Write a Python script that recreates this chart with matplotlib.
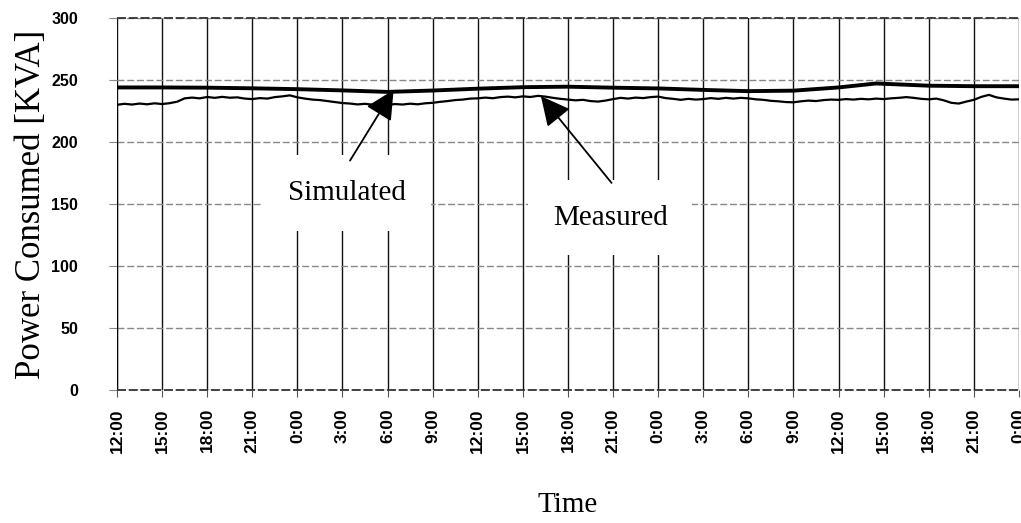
import numpy as np
import matplotlib
matplotlib.use("Agg")
import matplotlib.pyplot as plt

# --- data ---
tick_hours = list(range(0, 61, 3))
tick_labels = ["12:00", "15:00", "18:00", "21:00", "0:00", "3:00", "6:00", "9:00",
               "12:00", "15:00", "18:00", "21:00", "0:00", "3:00", "6:00", "9:00",
               "12:00", "15:00", "18:00", "21:00", "0:00"]

sim_hours = [0, 3, 6, 9, 12, 15, 18, 21, 24, 27, 30, 33, 36, 39, 42, 45, 48, 50.5, 54, 57, 60]
sim_kva = [244.0, 244.0, 243.8, 243.3, 242.6, 241.6, 240.4, 241.5, 243.0, 244.2, 244.6,
           243.8, 243.2, 242.0, 241.0, 241.4, 244.0, 247.2, 245.4, 245.0, 245.0]

meas_hours = [0.0] + [h * 0.5 for h in range(121)]
meas_kva = [0.0,
            230.0, 230.8, 230.2, 231.0, 230.4, 231.2, 230.6, 231.3, 232.5, 235.2,
            235.8, 235.2, 236.3, 235.6, 236.4, 235.7, 236.0, 235.0, 234.6, 235.4,
            235.0, 236.2, 236.8, 237.6, 236.0, 235.0, 234.2, 233.8, 233.0, 232.2,
            231.4, 231.0, 230.3, 230.8, 230.1, 230.7, 230.0, 230.6, 230.2, 230.9,
            230.4, 231.2, 231.6, 232.4, 233.0, 233.8, 234.2, 235.0, 235.2, 235.8,
            235.3, 236.2, 236.6, 236.0, 236.8, 236.3, 237.2, 236.6, 235.6, 234.8,
            234.2, 233.6, 234.0, 233.0, 232.6, 233.4, 234.6, 235.6, 235.0, 235.8,
            235.4, 236.2, 236.6, 235.4, 234.8, 234.0, 234.8, 234.2, 234.6, 235.4,
            234.8, 235.6, 235.0, 235.6, 235.2, 234.4, 234.0, 233.2, 232.8, 232.2,
            232.0, 232.8, 233.4, 233.0, 233.8, 234.2, 234.0, 234.6, 234.2, 234.8,
            234.4, 235.0, 234.6, 235.2, 235.6, 236.2, 235.6, 234.8, 234.4, 235.0,
            233.6, 231.6, 231.0, 232.6, 234.0, 236.4, 238.0, 236.0, 235.0, 234.2,
            234.4]

# --- figure ---
fig = plt.figure(figsize=(10.21, 5.23), dpi=100)
ax = fig.add_axes([0.1146, 0.2543, 0.8834, 0.7113])

ax.plot(sim_hours, sim_kva, color="black", lw=2.8, zorder=2)
ax.plot(meas_hours, meas_kva, color="black", lw=1.6, zorder=2)

ax.set_xlim(0, 60)
ax.set_ylim(0, 300)
ax.set_xticks(tick_hours)
ax.set_xticklabels(tick_labels, rotation=90, fontsize=12.5, fontweight="bold",
                   family="Liberation Sans")
ax.set_yticks(np.arange(0, 301, 50))
ax.set_yticklabels([str(v) for v in range(0, 301, 50)], fontsize=11.5,
                   fontweight="bold", family="Liberation Sans")
ax.tick_params(axis="x", length=5, color="#555555", pad=8)
ax.tick_params(axis="y", length=6, color="#888888", pad=22)

for s in ax.spines.values():
    s.set_visible(False)
ax.set_axisbelow(True)
ax.grid(True, axis="x", color="#111111", lw=1.0)
ax.grid(True, axis="y", color="#888888", lw=1.0, ls=(0, (5, 2)))
# darker dashed frame lines at the bottom and top
for yv in (0, 300):
    ax.axhline(yv, color="#333333", lw=1.3, ls=(0, (5, 1.5)), zorder=1, clip_on=False)

ax.set_ylabel("Power Consumed [KVA]", family="Liberation Serif", fontsize=25)
ax.yaxis.set_label_coords(-0.076, 0.5)
ax.set_xlabel("Time", family="Liberation Serif", fontsize=21)
ax.xaxis.set_label_coords(0.5, -0.275)

# --- labels with arrows ---
box = dict(boxstyle="square,pad=0.85", fc="white", ec="none")
ax.text(15.3, 159, "Simulated", family="Liberation Serif", fontsize=21,
        ha="center", va="center", bbox=box, zorder=3)
ax.text(32.8, 139, "Measured", family="Liberation Serif", fontsize=21,
        ha="center", va="center", bbox=box, zorder=3)

arrow = dict(arrowstyle="-|>,head_length=1.0,head_width=0.5", color="black",
             lw=1.3, mutation_scale=18, shrinkA=0, shrinkB=0)
ax.annotate("", xy=(18.4, 242), xytext=(15.5, 185), arrowprops=arrow, zorder=4)
ax.annotate("", xy=(28.2, 237), xytext=(32.9, 167), arrowprops=arrow, zorder=4)

fig.savefig("out.png", dpi=100)
